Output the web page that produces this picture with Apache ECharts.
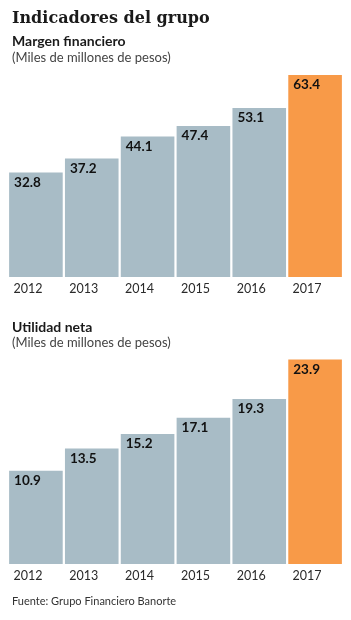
<!DOCTYPE html>
<html>
<head>
<meta charset="utf-8">
<script src="https://cdn.jsdelivr.net/npm/echarts@6/dist/echarts.min.js"></script>
<style>
html,body{margin:0;padding:0;background:#fff;}
#c{width:351px;height:620px;}
</style>
</head>
<body>
<div id="c"></div>
<script>
const years = ['2012','2013','2014','2015','2016','2017'];
const margen = [32.8, 37.2, 44.1, 47.4, 53.1, 63.4];
const utilidad = [10.9, 13.5, 15.2, 17.1, 19.3, 23.9];

const BLUE = '#a8bcc6';
const ORANGE = '#f89a48';
const chart = echarts.init(document.getElementById('c'));

function colorFn(p){ return p.dataIndex === years.length - 1 ? ORANGE : BLUE; }
const labelCfg = {
  show: true, position: [5, 3], align: 'left', verticalAlign: 'top',
  fontFamily: 'Lato', fontWeight: 'bold', fontSize: 13.5, color: '#111',
  formatter: p => p.value.toFixed(1)
};
const xAxisCfg = (gi) => ({
  type: 'category', gridIndex: gi, data: years,
  axisLine: {show: false}, axisTick: {show: false},
  axisLabel: {
    interval: 0,
    margin: 5,
    formatter: v => '{a|' + v + '}',
    rich: {a: {width: 45, align: 'left', fontFamily: 'Lato', fontSize: 12.5, color: '#2a2a2a'}}
  }
});
const yAxisCfg = (gi, max) => ({
  type: 'value', gridIndex: gi, min: 0, max: max,
  show: false, splitLine: {show: false}
});

chart.setOption({
  animation: false,
  title: [
    {text: 'Indicadores del grupo', left: 7, top: 6,
     textStyle: {fontFamily: 'DejaVu Serif', fontWeight: 'bold', fontSize: 16, color: '#1a1a1a'}},
    {text: 'Margen financiero', left: 7, top: 29,
     textStyle: {fontFamily: 'Lato', fontWeight: 'bold', fontSize: 14, color: '#1a1a1a'}},
    {text: '(Miles de millones de pesos)', left: 7, top: 46,
     textStyle: {fontFamily: 'Lato', fontWeight: 'normal', fontSize: 13, color: '#444'}},
    {text: 'Utilidad neta', left: 7, top: 315,
     textStyle: {fontFamily: 'Lato', fontWeight: 'bold', fontSize: 14, color: '#1a1a1a'}},
    {text: '(Miles de millones de pesos)', left: 7, top: 331,
     textStyle: {fontFamily: 'Lato', fontWeight: 'normal', fontSize: 13, color: '#444'}},
    {text: 'Fuente: Grupo Financiero Banorte', left: 7, top: 591,
     textStyle: {fontFamily: 'Lato', fontWeight: 'normal', fontSize: 11, color: '#333'}}
  ],
  grid: [
    {left: 8, right: 8, top: 70, height: 207},
    {left: 8, right: 8, top: 355, height: 209}
  ],
  xAxis: [xAxisCfg(0), xAxisCfg(1)],
  yAxis: [yAxisCfg(0, 65), yAxisCfg(1, 24.44)],
  series: [
    {type: 'bar', xAxisIndex: 0, yAxisIndex: 0, data: margen, barCategoryGap: '4%',
     itemStyle: {color: colorFn}, label: labelCfg},
    {type: 'bar', xAxisIndex: 1, yAxisIndex: 1, data: utilidad, barCategoryGap: '4%',
     itemStyle: {color: colorFn}, label: labelCfg}
  ]
});
</script>
</body>
</html>
